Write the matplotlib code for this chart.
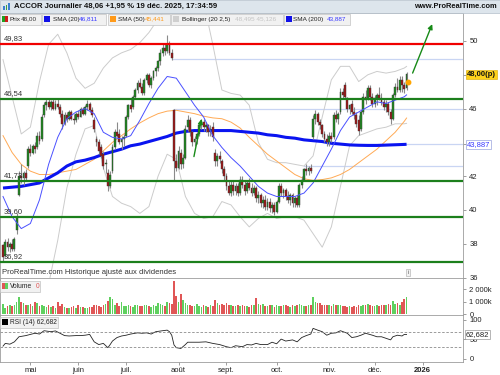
import matplotlib
matplotlib.use("Agg")
import matplotlib.pyplot as plt
from matplotlib.patches import Rectangle
from matplotlib.transforms import blended_transform_factory
import numpy as np
import pandas as pd

plt.rcParams['font.family'] = ['Liberation Sans', 'DejaVu Sans']
plt.rcParams['font.size'] = 5.5

# --- cours journaliers ACCOR (11 avr. -> 19 dec. 2025) ---
opens = [37.9, 37.3, 38.1, 37.8, 38.0, 37.7, 38.8, 40.9, 42.0, 41.9,
         42.2, 42.6, 43.6, 43.4, 43.8, 43.7, 44.4, 44.2, 45.6, 46.2,
         46.4, 46.1, 46.4, 46.0, 46.3, 46.1, 45.7, 45.1, 45.6, 45.4,
         45.8, 45.4, 45.3, 45.7, 45.5, 46.0, 45.7, 46.1, 46.3, 45.9,
         45.3, 44.2, 44.0, 43.7, 43.3, 42.7, 42.2, 41.4, 42.3, 43.7,
         44.6, 44.5, 44.0, 44.2, 44.4, 45.5, 46.2, 46.1, 46.7, 47.1,
         47.5, 47.3, 46.9, 47.7, 48.0, 47.4, 47.8, 48.2, 48.4, 48.8,
         49.3, 49.6, 49.4, 49.8, 49.3, 45.9, 42.9, 42.5, 43.4, 42.7,
         43.1, 44.9, 45.3, 44.6, 44.0, 44.2, 44.5, 45.0, 45.2, 44.9,
         45.0, 44.6, 44.9, 43.4, 42.9, 43.2, 42.9, 42.4, 42.0, 41.4,
         41.0, 41.5, 41.1, 41.4, 41.0, 41.8, 41.5, 41.1, 41.6, 41.3,
         41.0, 41.3, 40.7, 40.9, 40.4, 40.6, 40.2, 40.5, 40.1, 40.3,
         39.9, 40.5, 41.4, 41.0, 41.2, 40.8, 40.6, 40.9, 40.4, 40.7,
         40.3, 41.5, 41.8, 42.4, 42.3, 42.5, 44.3, 45.4, 45.7, 45.2,
         45.0, 44.5, 44.2, 44.0, 44.4, 44.3, 45.6, 45.4, 45.8, 47.0,
         47.4, 46.6, 46.0, 46.3, 45.8, 45.6, 45.3, 44.8, 45.8, 46.7,
         46.6, 47.2, 46.7, 46.3, 46.6, 46.8, 46.6, 46.4, 46.1, 46.3,
         45.8, 45.4, 46.8, 47.3, 47.1, 47.7, 47.4, 47.2]
highs = [38.0, 38.3, 38.35, 38.1, 38.3, 38.4, 39.8, 42.3, 42.7, 42.3,
         42.4, 43.8, 43.9, 43.9, 44.0, 44.6, 44.7, 45.7, 46.4, 46.6,
         46.6, 46.5, 46.6, 46.5, 46.6, 46.3, 45.9, 45.8, 45.8, 45.9,
         45.9, 45.7, 45.8, 45.9, 46.1, 46.1, 46.2, 46.5, 46.4, 46.1,
         45.5, 44.4, 44.2, 43.9, 43.5, 43.0, 42.4, 42.3, 43.9, 44.8,
         45.2, 44.8, 44.4, 44.5, 45.6, 46.3, 46.6, 46.8, 47.2, 47.7,
         47.8, 47.5, 47.8, 48.1, 48.1, 47.9, 48.3, 48.5, 48.9, 49.5,
         49.8, 49.9, 50.35, 50.0, 49.5, 46.0, 43.3, 43.8, 43.6, 43.3,
         45.0, 45.6, 45.5, 44.7, 44.4, 44.6, 45.1, 45.4, 45.4, 45.2,
         45.1, 45.0, 45.2, 43.6, 43.4, 43.5, 43.0, 42.6, 42.2, 41.8,
         41.7, 41.7, 41.6, 41.6, 42.0, 42.0, 41.7, 41.8, 41.9, 41.6,
         41.5, 41.4, 41.1, 41.0, 40.8, 40.9, 40.7, 40.7, 40.5, 40.5,
         40.6, 41.6, 41.6, 41.3, 41.3, 41.1, 41.0, 41.0, 40.8, 40.9,
         41.6, 42.0, 42.5, 42.7, 42.6, 42.7, 45.6, 45.9, 45.8, 45.4,
         45.1, 44.7, 44.5, 44.6, 44.6, 45.8, 45.9, 45.8, 47.2, 47.2,
         47.6, 46.7, 46.3, 46.5, 46.1, 45.8, 45.6, 45.9, 46.9, 47.1,
         47.4, 47.4, 46.9, 46.8, 46.9, 47.3, 46.9, 46.6, 46.5, 46.4,
         46.0, 46.9, 47.5, 47.8, 47.9, 47.9, 47.6, 48.15]
lows = [36.92, 37.2, 37.6, 37.5, 37.6, 37.6, 38.6, 40.8, 41.6, 41.5,
        41.7, 42.5, 43.2, 43.3, 43.4, 43.6, 43.9, 44.1, 45.5, 45.9,
        46.0, 45.9, 45.9, 45.9, 46.0, 45.5, 44.8, 45.0, 45.2, 45.3,
        45.3, 45.1, 45.2, 45.4, 45.5, 45.6, 45.6, 45.9, 45.8, 45.5,
        44.6, 43.8, 43.3, 43.1, 42.4, 42.2, 41.1, 41.3, 42.2, 43.6,
        44.3, 43.9, 43.6, 43.8, 44.3, 45.4, 45.8, 46.0, 46.6, 46.9,
        47.2, 46.8, 46.8, 47.5, 47.3, 47.2, 47.7, 47.9, 48.2, 48.6,
        49.1, 49.2, 49.3, 49.2, 48.9, 41.7, 42.3, 42.4, 42.4, 42.5,
        43.0, 44.7, 44.4, 43.8, 43.8, 43.9, 44.4, 44.8, 44.7, 44.6,
        44.4, 44.4, 44.1, 42.6, 42.6, 42.8, 42.2, 41.8, 41.2, 40.9,
        40.8, 40.9, 40.9, 40.8, 40.9, 41.3, 40.9, 41.0, 41.2, 40.8,
        40.9, 40.5, 40.4, 40.2, 40.1, 40.0, 40.0, 39.9, 39.8, 39.7,
        39.8, 40.4, 40.8, 40.7, 40.6, 40.4, 40.3, 40.2, 40.2, 40.2,
        40.2, 41.3, 41.7, 42.1, 42.1, 42.2, 44.2, 45.1, 45.0, 44.8,
        44.3, 44.0, 43.8, 43.8, 44.0, 44.2, 45.2, 45.1, 45.7, 46.6,
        46.6, 45.8, 45.7, 45.7, 45.4, 44.9, 44.45, 44.7, 45.7, 46.3,
        46.5, 46.5, 46.1, 46.1, 46.2, 46.5, 46.2, 45.9, 45.8, 45.6,
        45.1, 45.3, 46.7, 47.0, 47.0, 47.0, 46.9, 47.1]
closes = [37.2, 38.1, 37.8, 38.0, 37.7, 38.3, 39.6, 42.0, 41.9, 42.2,
          41.9, 43.6, 43.4, 43.8, 43.6, 44.4, 44.1, 45.5, 46.2, 46.4,
          46.1, 46.4, 46.0, 46.3, 46.1, 45.7, 45.1, 45.6, 45.4, 45.8,
          45.4, 45.3, 45.7, 45.5, 46.0, 45.7, 46.1, 46.3, 45.9, 45.6,
          44.8, 44.0, 43.5, 43.2, 42.6, 42.8, 41.4, 42.1, 43.7, 44.6,
          44.4, 44.0, 44.2, 44.3, 45.5, 46.2, 46.0, 46.7, 47.1, 47.5,
          47.3, 46.9, 47.7, 48.0, 47.4, 47.8, 48.2, 48.4, 48.8, 49.3,
          49.6, 49.4, 49.8, 49.3, 49.0, 42.9, 42.5, 43.5, 42.7, 43.1,
          44.8, 45.3, 44.6, 44.0, 44.2, 44.5, 45.0, 45.2, 44.9, 45.0,
          44.6, 44.8, 44.3, 42.9, 43.2, 43.0, 42.4, 42.0, 41.4, 41.0,
          41.5, 41.1, 41.4, 41.0, 41.8, 41.5, 41.1, 41.6, 41.3, 41.0,
          41.3, 40.7, 40.9, 40.4, 40.6, 40.2, 40.5, 40.1, 40.3, 39.9,
          40.5, 41.4, 41.0, 41.2, 40.8, 40.6, 40.9, 40.4, 40.7, 40.3,
          41.5, 41.8, 42.4, 42.3, 42.5, 42.3, 45.4, 45.7, 45.2, 45.0,
          44.5, 44.2, 44.0, 44.4, 44.2, 45.6, 45.4, 45.7, 47.0, 46.8,
          46.7, 46.0, 46.2, 45.8, 45.6, 45.1, 44.7, 45.8, 46.7, 46.5,
          47.2, 46.7, 46.3, 46.6, 46.8, 46.6, 46.4, 46.1, 46.3, 45.8,
          45.4, 46.8, 47.3, 47.1, 47.7, 47.4, 47.14, 48.06]
volumes_k = [820, 480, 620, 760, 640, 720, 1000, 1350, 950, 880,
             700, 760, 820, 640, 1000, 900, 620, 720, 680, 560,
             740, 600, 620, 520, 1000, 640, 780, 540, 500, 460,
             560, 620, 480, 700, 540, 600, 460, 520, 580, 600,
             700, 760, 640, 600, 720, 820, 1050, 1420, 1200, 760,
             900, 660, 1000, 640, 620, 700, 640, 580, 700, 760,
             680, 660, 760, 700, 640, 600, 720, 680, 860, 780,
             700, 640, 1000, 860, 820, 2630, 1480, 970, 1640, 1150,
             860, 760, 720, 680, 620, 780, 660, 560, 700, 640,
             600, 700, 640, 1150, 880, 760, 800, 740, 900, 700,
             720, 680, 640, 760, 620, 700, 680, 640, 560, 760,
             700, 1300, 840, 740, 780, 680, 640, 760, 700, 600,
             720, 680, 640, 700, 760, 620, 600, 700, 640, 760,
             800, 720, 680, 640, 700, 760, 1340, 960, 900, 880,
             760, 740, 700, 700, 620, 800, 720, 700, 740, 640,
             680, 600, 620, 580, 640, 560, 700, 680, 760, 720,
             780, 700, 640, 680, 720, 660, 760, 700, 740, 800,
             760, 1080, 820, 900, 760, 950, 1240, 1420]

# indicateurs (un point tous les 4 jours de bourse)
ind_days = list(range(0, 177, 4)) + [177]
sma20 = [40.8, 39.6, 38.9, 39.2, 40.6, 42.7, 44.3, 45.4, 45.8, 46.0,
         45.7, 44.6, 44.3, 44.2, 44.4, 45.3, 46.3, 47.2, 47.9, 47.8,
         47.0, 46.2, 45.5, 44.4, 43.7, 43.1, 42.6, 42.0, 41.4, 41.0,
         40.8, 40.8, 40.8, 41.0, 41.6, 42.6, 43.6, 44.7, 45.5, 45.8,
         46.1, 46.4, 46.3, 46.5, 46.7, 46.811]
sma50 = [44.4, 43.4, 42.7, 42.3, 42.1, 42.1, 42.2, 42.3, 42.4, 42.7,
         43.0, 43.5, 44.0, 44.4, 44.8, 45.15, 45.45, 45.7, 45.85, 45.9,
         45.8, 45.7, 45.55, 45.45, 45.4, 45.2, 44.85, 44.3, 43.8, 43.3,
         42.9, 42.5, 42.1, 41.85, 41.75, 41.8, 41.9, 42.1, 42.4, 42.8,
         43.2, 43.6, 44.1, 44.6, 45.25, 45.441]
sma200 = [41.3, 41.35, 41.4, 41.5, 41.6, 41.9, 42.2, 42.6, 42.85, 42.95,
          43.1, 43.3, 43.45, 43.6, 43.8, 43.9, 44.05, 44.2, 44.35, 44.55,
          44.65, 44.7, 44.7, 44.7, 44.7, 44.7, 44.65, 44.6, 44.55, 44.45,
          44.4, 44.3, 44.25, 44.15, 44.1, 44.05, 43.95, 43.9, 43.85, 43.83,
          43.82, 43.82, 43.84, 43.86, 43.88, 43.887]
boll_up = [48.9, 46.7, 44.5, 44.9, 47.6, 49.8, 50.4, 49.3, 47.8, 47.2,
           47.5, 48.4, 49.0, 49.3, 49.5, 49.9, 50.5, 51.3, 52.0, 53.0,
           53.5, 53.2, 52.3, 49.8, 47.1, 46.9, 46.8, 46.2, 44.0, 43.0,
           42.8, 42.8, 42.7, 42.6, 43.2, 45.5, 47.7, 48.5, 48.5, 47.6,
           48.0, 48.2, 48.1, 48.2, 48.4, 48.495]
boll_lo = [32.7, 32.5, 33.3, 33.5, 33.6, 35.6, 38.2, 41.3, 43.3, 44.8,
           45.0, 42.5, 40.8, 40.4, 40.2, 39.8, 40.2, 42.0, 43.3, 43.0,
           40.8, 39.8, 39.5, 39.6, 40.5, 40.3, 39.6, 39.0, 39.5, 39.8,
           39.5, 39.6, 39.6, 39.4, 38.6, 37.8, 39.0, 41.4, 43.8, 44.4,
           44.6, 44.8, 44.9, 45.1, 45.1, 45.126]

rsi_days = [0, 1, 3, 5, 7, 10, 12, 14, 16, 18, 21, 23, 25, 27, 29, 32, 34, 36,
            38, 40, 42, 44, 46, 47, 48, 50, 52, 54, 56, 59, 61, 63, 65, 67,
            70, 72, 73, 74, 75, 76, 78, 80, 81, 83, 86, 89, 92, 95, 98, 100,
            102, 105, 107, 109, 111, 113, 116, 118, 120, 122, 124, 127, 129,
            131, 133, 135, 136, 138, 140, 142, 144, 146, 148, 151, 153, 155,
            157, 159, 162, 164, 166, 168, 170, 171, 173, 175, 176, 177]
rsi_vals = [33, 40, 38, 44, 57, 60, 63, 66, 64, 72.5, 70, 72, 66, 60, 59, 60,
            60, 61, 63, 44, 37, 40, 29, 37, 46, 55, 59, 61, 64, 67, 66, 67,
            64, 70, 72.5, 74, 70, 61, 36, 29, 27, 37, 43, 43, 43, 44, 40, 37,
            31.5, 29, 34, 31.5, 37, 36, 40, 37, 37, 43, 39, 51, 46, 49, 44,
            55, 60, 64, 78.5, 74, 70, 61, 66, 67, 72.5, 66, 55, 57, 61, 66,
            61, 57, 57, 53, 49, 57, 61, 59, 63, 62.682]

red_level = 49.83
green_levels = [46.54, 41.73, 39.60, 36.92]
# lignes bleu clair (jour de depart, niveau)
light_levels = [(74, 48.95), (75, 45.98), (132, 42.58), (142, 43.887)]

month_names = {5: 'mai', 6: 'juin', 7: 'juil.', 8: 'août', 9: 'sept.',
               10: 'oct.', 11: 'nov.', 12: 'déc.'}
holidays = pd.to_datetime(['2025-04-18', '2025-04-21', '2025-05-01',
                           '2025-12-25', '2025-12-26', '2026-01-01'])


def fr(v, nd=2):
    return f"{v:.{nd}f}".replace('.', ',')


W, H = 500, 375
fig = plt.figure(figsize=(W / 100, H / 100), dpi=100)


def px_axes(x0, y0, x1, y1):
    return fig.add_axes([x0 / W, 1 - y1 / H, (x1 - x0) / W, (y1 - y0) / H])


def fx(x):
    return x / W


def fy(y):
    return 1 - y / H


def prect(x0, y0, x1, y1, **kw):
    fig.add_artist(Rectangle((fx(x0), fy(y1)), (x1 - x0) / W, (y1 - y0) / H,
                             transform=fig.transFigure, **kw))


XMIN, XMAX = -1.32, 201.75
spine_col = '#9c9c9c'

ax = px_axes(0, 12.5, 463, 278)
axv = px_axes(0, 278, 463, 315)
axr = px_axes(0, 315, 463, 362)

for a in (ax, axv, axr):
    a.set_xlim(XMIN, XMAX)
    for s in a.spines.values():
        s.set_color(spine_col)
        s.set_linewidth(0.6)
    a.yaxis.tick_right()
    a.tick_params(axis='y', length=2.5, width=0.5, color='#777777',
                  labelsize=5.5, pad=2, labelcolor='#222222')
    a.tick_params(axis='x', length=0, labelbottom=False)

# ---- prix ----
n = len(closes)
x = np.arange(n)
o = np.array(opens)
c = np.array(closes)
up = c >= o
ax.vlines(x, lows, highs, color='#8a8a8a', lw=0.8, zorder=3)
ax.bar(x, np.maximum(np.abs(c - o), 0.05), bottom=np.minimum(o, c), width=0.8,
       color=np.where(up, '#1f8a1f', '#a01616'), edgecolor='#3a3a3a',
       linewidth=0.3, zorder=4)

ax.plot(ind_days, boll_up, color='#cccccc', lw=0.7, zorder=2)
ax.plot(ind_days, boll_lo, color='#cccccc', lw=0.7, zorder=2)
ax.plot(ind_days, sma50, color='#ffaa55', lw=0.7, zorder=2.5)
ax.plot(ind_days, sma200, color='#0a14f0', lw=2.2, zorder=2.6,
        solid_capstyle='butt')
ax.plot(ind_days, sma20, color='#4a50ff', lw=0.7, zorder=4.5)

for d0, lv in light_levels:
    ax.plot([d0, XMAX], [lv, lv], color='#c9d5f3', lw=0.9, zorder=1.5)
ax.axhline(red_level, color='#f00000', lw=1.6, zorder=5)
for lv in green_levels:
    ax.axhline(lv, color='#1c7f1c', lw=1.6, zorder=5)
for lv in [red_level] + green_levels:
    ax.text(0.2, lv + 0.12, fr(lv), fontsize=5.5, color='#333333',
            va='bottom', ha='left', zorder=6)

ax.annotate('', xy=(87.3, 45.55), xytext=(83.5, 43.0),
            arrowprops=dict(arrowstyle='-|>', color='#178a17', lw=1.0,
                            mutation_scale=7), zorder=6)
ax.annotate('', xy=(188.7, 51.15), xytext=(179.2, 47.95),
            arrowprops=dict(arrowstyle='-|>', color='#178a17', lw=1.0,
                            mutation_scale=7), zorder=6)
ax.plot(177.7, 47.57, 'o', ms=3.2, color='#ffa500', zorder=6)

ax.set_ylim(35.976, 51.686)
ax.set_yticks([36, 38, 40, 42, 43.887, 46, 48, 50])
ax.set_yticklabels(['36', '38', '40', '42', '', '46', '', '50'])
bt = blended_transform_factory(ax.transAxes, ax.transData)
ax.text(1.008, 48.0, '48,00(p)', transform=bt, va='center', ha='left',
        fontsize=5.5, fontweight='bold', color='#111111', clip_on=False,
        bbox=dict(boxstyle='square,pad=0.15', fc='#ffd21a', ec='#d9a800',
                  lw=0.4))
ax.text(1.008, sma200[-1], fr(sma200[-1], 3), transform=bt, va='center',
        ha='left', fontsize=5.5, color='#3a3aff', clip_on=False,
        bbox=dict(boxstyle='square,pad=0.15', fc='white', ec='#9aa4dd',
                  lw=0.5))
ax.text(0.004, 0.008, 'ProRealTime.com Historique ajusté aux dividendes',
        transform=ax.transAxes, fontsize=5.5, color='#333333', va='bottom',
        ha='left')
ax.text(0.881, 0.012, 'i', transform=ax.transAxes, fontsize=4.5,
        color='#666666', va='bottom', ha='center',
        bbox=dict(boxstyle='square,pad=0.2', fc='#f2f2f2', ec='#aaaaaa',
                  lw=0.4))

# ---- volume ----
vcol = ['#5fd05f'] + ['#5fd05f' if closes[i] >= closes[i - 1] else '#e05656'
                      for i in range(1, n)]
axv.bar(x, volumes_k, width=0.7, color=vcol, linewidth=0)
axv.set_ylim(-70, 2910)
axv.set_yticks([0, 1000, 2000])
axv.set_yticklabels(['0', '1 000k', '2 000k'])

# ---- RSI ----
axr.plot(rsi_days, rsi_vals, color='#222222', lw=0.6)
for lv in (70, 30):
    axr.axhline(lv, color='#8c8c8c', lw=0.6, ls=(0, (3, 2)))
axr.set_ylim(-7.7, 112.8)
axr.set_yticks([0, 50, 100])
axr.text(1.006, rsi_vals[-1], fr(rsi_vals[-1], 3),
         transform=blended_transform_factory(axr.transAxes, axr.transData),
         va='center', ha='left', fontsize=5.5, color='#222222',
         clip_on=False,
         bbox=dict(boxstyle='square,pad=0.15', fc='white', ec='#999999',
                   lw=0.5))

# ---- axe des dates ----
days = pd.bdate_range('2025-04-11', '2026-02-27')
days = days[~days.isin(holidays)]
ticks, labels = [], []
for i in range(1, len(days)):
    if days[i].month != days[i - 1].month and i < XMAX:
        ticks.append(i)
        labels.append(month_names.get(days[i].month, str(days[i].year)))
axr.set_xticks(ticks)
axr.set_xticklabels(labels)
axr.tick_params(axis='x', length=2, width=0.5, color='#777777',
                labelbottom=True, labelsize=5.5, pad=1.5,
                labelcolor='#222222')
for t in axr.get_xticklabels():
    if t.get_text().isdigit():
        t.set_fontweight('bold')

# ---- en-tete ----
prect(0, 0, 500, 12.5, fc='#dde5ec', ec='#b4bfca', lw=0.5)
for i, col in enumerate(['#3a7fd0', '#3aa040', '#3a7fd0']):
    prect(3 + i * 2.6, 9.5 - (3 + i * 1.6), 4.8 + i * 2.6, 9.5,
          fc=col, ec='none')
fig.text(fx(14), fy(6.5), 'ACCOR Journalier 48,06 +1,95 % 19 déc. 2025, 17:34:59',
         fontsize=5.6, fontweight='bold', va='center', ha='left',
         color='#111111')
fig.text(fx(497), fy(6.5), 'www.ProRealTime.com', fontsize=5.4,
         fontweight='bold', va='center', ha='right', color='#111111')

# ---- legendes : (boite x0, x1, couleurs, nom, x du nom, valeur, x valeur, couleur) ----
legend_items = [
    (0, 41, ['#1fa01f', '#d01a1a'], 'Prix', 10, '48,00', 21, '#333333'),
    (42, 106, ['#1010e8'], 'SMA (20)', 53, fr(sma20[-1], 3), 79, '#3a3aff'),
    (108, 170, ['#ff9a1a'], 'SMA (50)', 118, fr(sma50[-1], 3), 145, '#ff9a1a'),
    (171, 283, ['#cfcfcf'], 'Bollinger (20 2,5)', 182,
     fr(boll_up[-1], 3) + ' ' + fr(boll_lo[-1], 3), 235, '#c4c4c4'),
    (284, 350, ['#1010e8'], 'SMA (200)', 293, fr(sma200[-1], 3), 327, '#3a3aff'),
]
for x0, x1, cols, name, nx, val, vx, vc in legend_items:
    prect(x0, 13.5, x1, 24.5, fc='#f1f1f1', ec='#c2c2c2', lw=0.5, zorder=10)
    w = 6.0 / len(cols)
    for k, col in enumerate(cols):
        prect(x0 + 1.5 + k * w, 16, x0 + 1.5 + (k + 1) * w, 22, fc=col,
              ec='none', zorder=11)
    fig.text(fx(nx), fy(19.2), name, fontsize=4.6, va='center',
             ha='left', color='#222222', zorder=12)
    fig.text(fx(vx), fy(19.2), val, fontsize=4.6, va='center',
             ha='left', color=vc, zorder=12)

prect(0, 280.5, 40, 291.5, fc='#f1f1f1', ec='#c2c2c2', lw=0.5, zorder=10)
prect(1.5, 283, 4.5, 289, fc='#e05656', ec='none', zorder=11)
prect(4.5, 283, 7.5, 289, fc='#5fd05f', ec='none', zorder=11)
fig.text(fx(10), fy(286), 'Volume', fontsize=4.8, va='center', ha='left',
         color='#222222', zorder=12)
fig.text(fx(36), fy(286), '0', fontsize=4.8, va='center', ha='left',
         color='#e05656', zorder=12)

prect(0, 316.5, 58, 327.5, fc='#f1f1f1', ec='#c2c2c2', lw=0.5, zorder=10)
prect(1.5, 319, 7.5, 325, fc='#000000', ec='none', zorder=11)
fig.text(fx(10), fy(322), 'RSI (14) ' + fr(rsi_vals[-1], 3), fontsize=4.8,
         va='center', ha='left', color='#222222', zorder=12)

fig.savefig('out.png', dpi=100)
